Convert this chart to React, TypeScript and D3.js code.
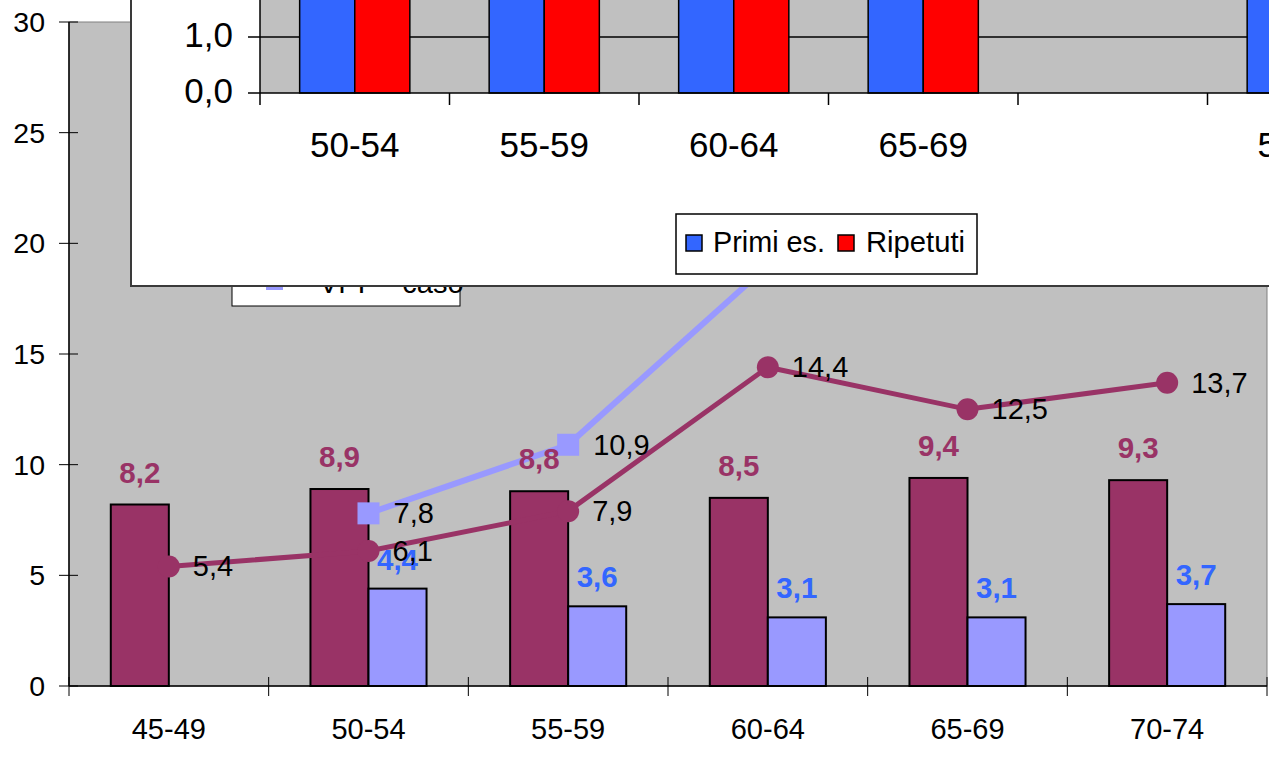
import React from "react";
import * as d3 from "d3";

// ---------- Main chart data ----------
const categories = ["45-49", "50-54", "55-59", "60-64", "65-69", "70-74"];
const barMaroon = [8.2, 8.9, 8.8, 8.5, 9.4, 9.3];
const barBlue: (number | null)[] = [null, 4.4, 3.6, 3.1, 3.1, 3.7];
const lineMaroon = [5.4, 6.1, 7.9, 14.4, 12.5, 13.7];
// light-blue line: only the first part is visible, the rest runs under the inset
const lineBlue: (number | null)[] = [null, 7.8, 10.9, 19.0, null, null];
const yTicks = [0, 5, 10, 15, 20, 25, 30];
const legendVisibleLabel = "VPP - caso";

// ---------- Inset chart data ----------
const insetCategories = ["50-54", "55-59", "60-64", "65-69", "", "50-54 "];
const insetPrimi: (number | null)[] = [2.4, 2.4, 2.4, 2.4, null, 2.4];
const insetRipetuti: (number | null)[] = [2.2, 2.2, 2.2, 2.2, null, 2.2];
const insetYTicks = [0, 1];
const insetTickLabels = ["0,0", "1,0"];
const insetSeries = ["Primi es.", "Ripetuti"];

const MAROON = "#993366";
const LBLUE = "#9999FF";
const LABEL_BLUE = "#3366FF";
const SILVER = "#C0C0C0";
const FONT = "'Liberation Sans', Arial, Helvetica, sans-serif";

const fmt = (v: number) => v.toFixed(1).replace(".", ",");

export default function App() {
  const W = 1269;
  const H = 764;

  // main scales
  const x = d3.scaleBand<string>().domain(categories).range([69, 1267]).paddingInner(0).paddingOuter(0);
  const xs = d3.scaleBand<string>().domain(["a", "b"]).range([0, x.bandwidth()]).paddingInner(0).paddingOuter(0.72);
  const y = d3.scaleLinear().domain([0, 30]).range([686, 22]);
  const cx = (c: string) => (x(c) as number) + x.bandwidth() / 2;

  const maroonLine = d3
    .line<number>()
    .x((_, i) => cx(categories[i]))
    .y((d) => y(d));
  const blueLine = d3
    .line<number | null>()
    .defined((d) => d != null)
    .x((_, i) => cx(categories[i]))
    .y((d) => y(d as number));

  // inset scales
  const xi = d3.scaleBand<string>().domain(insetCategories).range([260, 260 + 6 * 189.5]).paddingInner(0).paddingOuter(0);
  const xis = d3.scaleBand<string>().domain(insetSeries).range([0, xi.bandwidth()]).paddingInner(0).paddingOuter(0.72);
  const yi = d3.scaleLinear().domain([0, 1]).range([93, 37]);
  const insetColors = ["#3366FF", "#FF0000"];

  const mainBoundaries = categories.map((c) => x(c) as number).concat([1267]);
  const insetBoundaries = insetCategories.map((c) => xi(c) as number).concat([260 + 6 * 189.5]);

  return (
    <svg
      width={W}
      height={H}
      viewBox={`0 0 ${W} ${H}`}
      style={{ position: "absolute", left: 0, top: 0, background: "#fff", fontFamily: FONT }}
    >
      {/* ===== main plot area ===== */}
      <rect x={69} y={22} width={1267 - 69} height={686 - 22} fill={SILVER} stroke="#808080" strokeWidth={1} />

      {/* bars */}
      {categories.map((c, i) => (
        <g key={"bars" + c}>
          <rect
            x={(x(c) as number) + (xs("a") as number)}
            y={y(barMaroon[i])}
            width={xs.bandwidth()}
            height={y(0) - y(barMaroon[i])}
            fill={MAROON}
            stroke="#000"
            strokeWidth={2}
          />
          {barBlue[i] != null && (
            <rect
              x={(x(c) as number) + (xs("b") as number)}
              y={y(barBlue[i] as number)}
              width={xs.bandwidth()}
              height={y(0) - y(barBlue[i] as number)}
              fill={LBLUE}
              stroke="#000"
              strokeWidth={2}
            />
          )}
        </g>
      ))}

      {/* axes */}
      <line x1={69} x2={1267} y1={686} y2={686} stroke="#000" strokeWidth={1.5} />
      <line x1={69} x2={69} y1={22} y2={686} stroke="#000" strokeWidth={1.5} />
      {mainBoundaries.map((bx, i) => (
        <line key={"xt" + i} x1={bx} x2={bx} y1={677} y2={696} stroke="#000" strokeWidth={1} />
      ))}
      {yTicks.map((t) => (
        <g key={"yt" + t}>
          <line x1={59} x2={78} y1={y(t)} y2={y(t)} stroke="#000" strokeWidth={1} />
          <text x={45} y={y(t) + 10} textAnchor="end" fontSize={28.5} fill="#000">
            {t}
          </text>
        </g>
      ))}
      {categories.map((c) => (
        <text key={"xl" + c} x={cx(c)} y={739} textAnchor="middle" fontSize={29} fill="#000">
          {c}
        </text>
      ))}

      {/* lines */}
      <path d={blueLine(lineBlue) as string} fill="none" stroke={LBLUE} strokeWidth={6} />
      <path d={maroonLine(lineMaroon) as string} fill="none" stroke={MAROON} strokeWidth={5} />
      {lineBlue.map((v, i) =>
        v == null ? null : (
          <rect key={"sq" + i} x={cx(categories[i]) - 11} y={y(v) - 11} width={22} height={22} fill={LBLUE} />
        )
      )}
      {lineMaroon.map((v, i) => (
        <circle key={"ci" + i} cx={cx(categories[i])} cy={y(v)} r={11} fill={MAROON} />
      ))}

      {/* bar labels */}
      {categories.map((c, i) => (
        <text
          key={"bl" + c}
          x={(x(c) as number) + (xs("a") as number) + xs.bandwidth() / 2}
          y={y(barMaroon[i]) - 22}
          textAnchor="middle"
          fontSize={29.5}
          fontWeight="bold"
          fill={MAROON}
        >
          {fmt(barMaroon[i])}
        </text>
      ))}
      {categories.map((c, i) =>
        barBlue[i] == null ? null : (
          <text
            key={"bbl" + c}
            x={(x(c) as number) + (xs("b") as number) + xs.bandwidth() / 2}
            y={y(barBlue[i] as number) - 19}
            textAnchor="middle"
            fontSize={29.5}
            fontWeight="bold"
            fill={LABEL_BLUE}
          >
            {fmt(barBlue[i] as number)}
          </text>
        )
      )}

      {/* line labels */}
      {lineMaroon.map((v, i) => (
        <text key={"ml" + i} x={cx(categories[i]) + 24} y={y(v) + 10} fontSize={29} fill="#000">
          {fmt(v)}
        </text>
      ))}
      {lineBlue.map((v, i) =>
        v == null ? null : (
          <text key={"bll" + i} x={cx(categories[i]) + 25} y={y(v) + 10} fontSize={29} fill="#000">
            {fmt(v)}
          </text>
        )
      )}

      {/* main legend (mostly hidden under inset) */}
      <rect x={232} y={150} width={228} height={156} fill="#fff" stroke="#000" strokeWidth={1} />
      <line x1={248} x2={302} y1={281} y2={281} stroke={LBLUE} strokeWidth={5} />
      <rect x={266} y={273} width={17} height={17} fill={LBLUE} />
      <text x={319} y={293} fontSize={29} fill="#000">
        {legendVisibleLabel}
      </text>

      {/* ===== inset chart ===== */}
      <rect x={131} y={-20} width={1200} height={306} fill="#fff" stroke="#3a3a3a" strokeWidth={2} />
      <rect x={260} y={-20} width={1200} height={93 + 20} fill={SILVER} />
      {/* grid line */}
      <line x1={260} x2={1300} y1={yi(1)} y2={yi(1)} stroke="#000" strokeWidth={1.5} />
      {/* bars */}
      {insetCategories.map((c, i) =>
        [insetPrimi[i], insetRipetuti[i]].map((v, k) =>
          v == null ? null : (
            <rect
              key={"ib" + i + "-" + k}
              x={(xi(c) as number) + (xis(insetSeries[k]) as number)}
              y={yi(v)}
              width={xis.bandwidth()}
              height={yi(0) - yi(v)}
              fill={insetColors[k]}
              stroke="#000"
              strokeWidth={1.5}
            />
          )
        )
      )}
      {/* inset axes */}
      <line x1={260} x2={1300} y1={yi(0)} y2={yi(0)} stroke="#000" strokeWidth={1.5} />
      <line x1={260} x2={260} y1={-20} y2={yi(0)} stroke="#000" strokeWidth={1.5} />
      {insetBoundaries.map((bx, i) => (
        <line key={"ixt" + i} x1={bx} x2={bx} y1={yi(0)} y2={yi(0) + 12} stroke="#000" strokeWidth={1.5} />
      ))}
      {insetYTicks.map((t, i) => (
        <g key={"iyt" + t}>
          <line x1={248} x2={260} y1={yi(t)} y2={yi(t)} stroke="#000" strokeWidth={1.5} />
          <text x={233} y={yi(t) + 10} textAnchor="end" fontSize={35} fill="#000">
            {insetTickLabels[i]}
          </text>
        </g>
      ))}
      {insetCategories.map((c, i) => (
        <text
          key={"ixl" + i}
          x={(xi(c) as number) + xi.bandwidth() / 2}
          y={157}
          textAnchor="middle"
          fontSize={35}
          fill="#000"
        >
          {c.trim()}
        </text>
      ))}
      {/* inset legend */}
      <rect x={676} y={214} width={301} height={60} fill="#fff" stroke="#000" strokeWidth={1.5} />
      <rect x={686} y={235} width={16} height={16} fill={insetColors[0]} stroke="#000" strokeWidth={1.5} />
      <text x={713} y={252} fontSize={30} fill="#000" textLength={112} lengthAdjust="spacingAndGlyphs">
        {insetSeries[0]}
      </text>
      <rect x={838} y={235} width={16} height={16} fill={insetColors[1]} stroke="#000" strokeWidth={1.5} />
      <text x={866} y={252} fontSize={30} fill="#000" textLength={99} lengthAdjust="spacingAndGlyphs">
        {insetSeries[1]}
      </text>
    </svg>
  );
}
